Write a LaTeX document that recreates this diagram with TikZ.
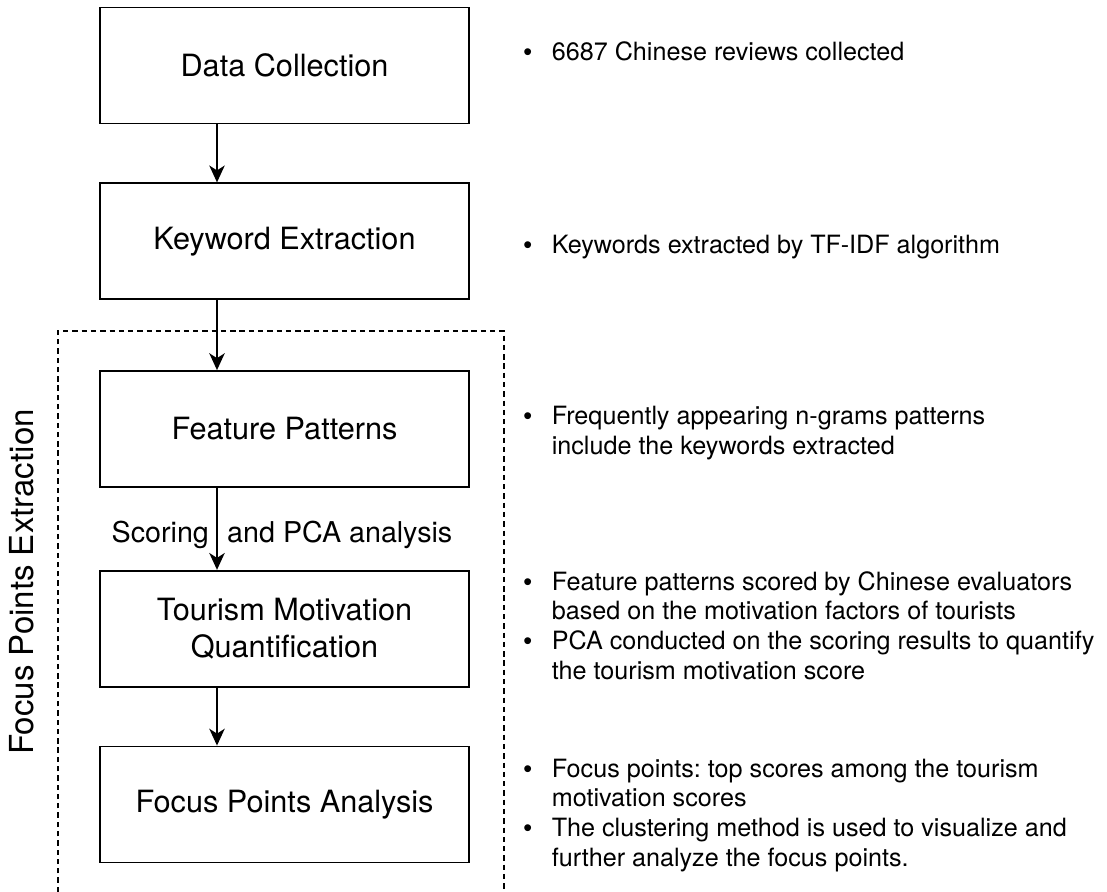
\documentclass[tikz,border=0pt]{standalone}
\usepackage{fontspec}
\setmainfont{TeX Gyre Heros}
\newfontfamily\bulletfont{Liberation Sans}
\usetikzlibrary{arrows.meta, positioning}
\frenchspacing

\newcommand{\bul}{{\bulletfont\textbullet}}

\begin{document}
\begin{tikzpicture}[x=0.025cm, y=-0.025cm, node distance=1.45cm,
  stage/.style={draw, line width=1.2pt, minimum width=9.225cm, minimum height=2.9cm,
    align=center, font=\fontsize{21.8}{26}\selectfont},
  flow/.style={-{Stealth[length=12pt, width=11pt, inset=3.5pt]}, line width=1.1pt},
  note/.style={anchor=base west, inner sep=0pt, font=\fontsize{17.9}{21.3}\selectfont},
  frame/.style={dash pattern=on 3.8pt off 2.8pt, line width=1pt}]

\useasboundingbox (0,0) rectangle (1107,892);

% Etapas del proceso
\node[stage] (dc) at (284.5,65.5) {Data Collection};
\node[stage, below=of dc] (ke) {Keyword Extraction};
\node[stage, below=1.75cm of ke] (fp) {Feature Patterns};
\node[stage, below=2.05cm of fp] (tmq) {Tourism Motivation\\Quantification};
\node[stage, below=of tmq] (fpa) {Focus Points Analysis};

% Flechas
\coordinate (axis) at (217,0);
\draw[flow] (dc.south -| axis) -- (ke.north -| axis);
\draw[flow] (ke.south -| axis) -- (fp.north -| axis);
\draw[flow] (fp.south -| axis) -- (tmq.north -| axis);
\draw[flow] (tmq.south -| axis) -- (fpa.north -| axis);
\node[anchor=base, inner sep=0pt, font=\fontsize{20.4}{24}\selectfont] (score) at (282,542)
  {Scoring\hspace{13pt}and PCA analysis};

% Marco punteado
\draw[frame] (58,892) |- (504,331) -- (504,892);
\node[rotate=90, inner sep=0pt, font=\fontsize{23.5}{28}\selectfont] (title) at (21.5,582)
  {Focus Points Extraction};

% Notas
\node[note] (n1) at (523,61) {\begin{tabular}[t]{@{}l@{\hspace{14pt}}l@{}}
  \bul & 6687 Chinese reviews collected\end{tabular}};
\node[note] (n2) at (523,254) {\begin{tabular}[t]{@{}l@{\hspace{14pt}}l@{}}
  \bul & Keywords extracted by TF-IDF algorithm\end{tabular}};
\node[note] (n3) at (523,425) {\begin{tabular}[t]{@{}l@{\hspace{14pt}}l@{}}
  \bul & Frequently appearing n-grams patterns\\
   & include the keywords extracted\end{tabular}};
\node[note] (n4) at (523,590) {\begin{tabular}[t]{@{}l@{\hspace{14pt}}l@{}}
  \bul & Feature patterns scored by Chinese evaluators\\
   & based on the motivation factors of tourists\\
  \bul & PCA conducted on the scoring results to quantify\\
   & the tourism motivation score\end{tabular}};
\node[note] (n5) at (523,777) {\begin{tabular}[t]{@{}l@{\hspace{14pt}}l@{}}
  \bul & Focus points: top scores among the tourism\\
   & motivation scores\\
  \bul & The clustering method is used to visualize and\\
   & further analyze the focus points.\end{tabular}};

\end{tikzpicture}
\end{document}
